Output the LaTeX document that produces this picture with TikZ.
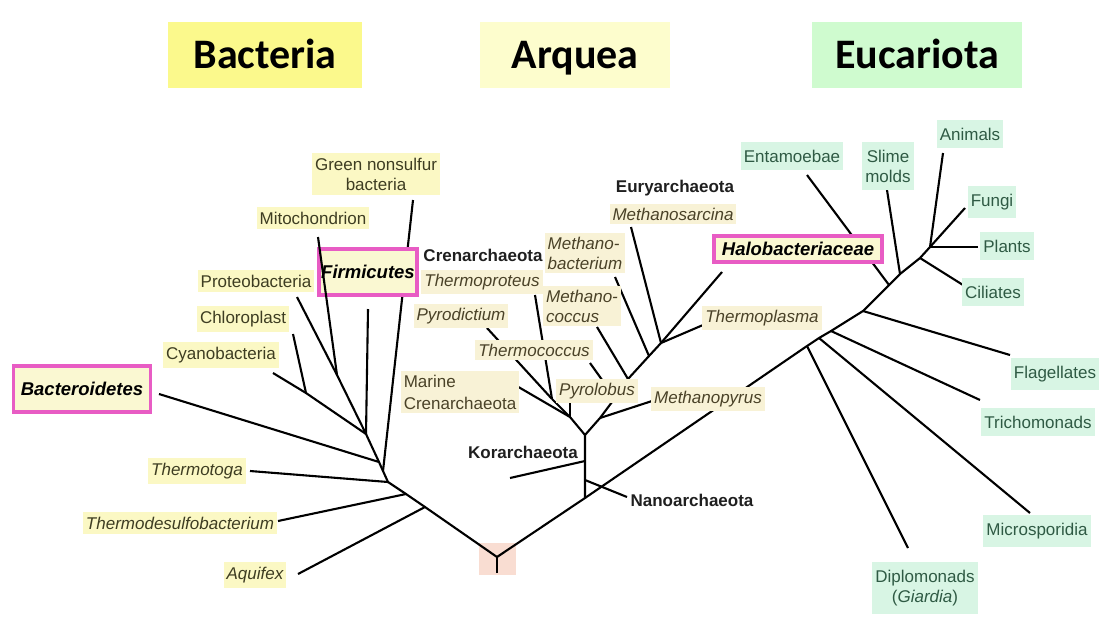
\documentclass[tikz,border=0pt]{standalone}
\usepackage{fontspec}
\setmainfont{Liberation Sans}
\newfontfamily\titlefont{Carlito}
\definecolor{bfill}{HTML}{FBF8C4}
\definecolor{afill}{HTML}{F8F2D6}
\definecolor{efill}{HTML}{D8F5E4}
\definecolor{btxt}{HTML}{3E3D22}
\definecolor{atxt}{HTML}{4A4228}
\definecolor{etxt}{HTML}{2F5A44}
\definecolor{dk}{HTML}{1F1F1F}
\definecolor{pinkc}{HTML}{E85CC4}
\definecolor{pfill}{HTML}{FAF8D2}
\definecolor{tbac}{HTML}{FBF98C}
\definecolor{tarq}{HTML}{FDFDCD}
\definecolor{teuk}{HTML}{CFFBCF}
\definecolor{rootc}{HTML}{F9DDD2}
\begin{document}
\begin{tikzpicture}[x=1pt,y=-1pt,
  br/.style={line width=2.1pt, draw=black, line join=round},
  lab/.style={inner xsep=3pt, inner ysep=5pt, align=center, font=\fontsize{17}{20}\selectfont},
  blab/.style={lab, fill=bfill, text=btxt},
  bilab/.style={blab, font=\fontsize{17}{20}\selectfont\itshape},
  alab/.style={lab, fill=afill, text=atxt, inner ysep=4pt, font=\fontsize{17}{20}\selectfont\itshape},
  elab/.style={lab, fill=efill, text=etxt, inner ysep=8pt},
  pinkbox/.style={draw=pinkc, line width=3.8pt, fill=pfill, text=black, inner sep=2pt, font=\fontsize{18.5}{21}\selectfont\bfseries\itshape},
  boldlab/.style={font=\fontsize{17}{20}\selectfont\bfseries, text=dk, inner sep=1pt},
  titlebox/.style={font=\titlefont\fontsize{42}{46}\selectfont\bfseries, minimum height=66pt, text height=27pt, text depth=0pt, text=black, inner sep=0pt},
]
\useasboundingbox (0,0) rectangle (1100,630);

% titles
\node[titlebox, fill=tbac, minimum width=194pt] (tB) at (265,55) {Bacteria};
\node[titlebox, fill=tarq, minimum width=190pt] (tA) at (575,55) {Arquea};
\node[titlebox, fill=teuk, minimum width=210pt] (tE) at (917,55) {Eucariota};

% root box
\node[fill=rootc, minimum width=37pt, minimum height=32pt, inner sep=0pt] (rootbox) at (497,559) {};

% ---------- coordinates ----------
\coordinate (R) at (497,557);
\coordinate (Rend) at (497,573);
% bacteria
\coordinate (bAq) at (425,507);
\coordinate (bTd) at (406,494);
\coordinate (bTt) at (388,482);
\coordinate (bGn) at (383,471);
\coordinate (bBd) at (379,462);
\coordinate (bFi) at (366,434);
\coordinate (bCh) at (306,393);
\coordinate (bMi) at (337,375);
\coordinate (tBd) at (159,394);
\coordinate (tTt) at (250,471);
\coordinate (tTd) at (278,521);
\coordinate (tAq) at (298,574);
\coordinate (tGn) at (413,200);
\coordinate (tFi) at (368,309);
\coordinate (tCy) at (273,373);
\coordinate (tCh) at (293,334);
\coordinate (tPr) at (297,297);
\coordinate (tMi) at (318,237);
% archaea
\coordinate (aB) at (585,498);
\coordinate (aN) at (585,480);
\coordinate (aK) at (585,461);
\coordinate (aT) at (585,435);
\coordinate (cB) at (570,417);
\coordinate (cA) at (552,399);
\coordinate (eM) at (600,418);
\coordinate (eT) at (615,398);
\coordinate (eC) at (628,379);
\coordinate (eB) at (649,356);
\coordinate (eS) at (661,343);
\coordinate (tKo) at (510,478);
\coordinate (tNa) at (627,497);
\coordinate (tMa) at (515,385);
\coordinate (tPy) at (570,402);
\coordinate (tPd) at (487,328);
\coordinate (tTp) at (535,295);
\coordinate (tMp) at (652,401);
\coordinate (tTc) at (590,363);
\coordinate (tMc) at (597,327);
\coordinate (tMb) at (615,277);
\coordinate (tMs) at (631,227);
\coordinate (tHa) at (722,272);
\coordinate (tTpl) at (703,325);
% eukaryotes
\coordinate (k1) at (807,346);
\coordinate (k2) at (819,338);
\coordinate (k3) at (831,331);
\coordinate (k4) at (863,311);
\coordinate (k5) at (889,285);
\coordinate (k6) at (900,274);
\coordinate (k7) at (920,258);
\coordinate (k8) at (930,247);
\coordinate (tFu) at (965,208);
\coordinate (tEn) at (807,175);
\coordinate (tSl) at (887,190);
\coordinate (tAn) at (943,153);
\coordinate (tPl) at (978,247);
\coordinate (tCi) at (963,285);
\coordinate (tFl) at (1010,355);
\coordinate (tTr) at (980,400);
\coordinate (tMs2) at (1030,513);
\coordinate (tDi) at (908,548);

% ---------- branches ----------
\draw[br] (Rend) -- (R);
% bacteria
\draw[br] (R) -- (bAq) -- (bTd) -- (bTt) -- (bGn) -- (bBd) -- (bFi);
\draw[br] (tBd) -- (bBd);
\draw[br] (tTt) -- (bTt);
\draw[br] (tTd) -- (bTd);
\draw[br] (tAq) -- (bAq);
\draw[br] (tGn) -- (bGn);
\draw[br] (tFi) -- (bFi);
\draw[br] (tCy) -- (bCh) -- (bFi);
\draw[br] (tCh) -- (bCh);
\draw[br] (tPr) -- (bMi) -- (bFi);
% archaea
\draw[br] (R) -- (aB) -- (aN) -- (aK) -- (aT);
\draw[br] (tKo) -- (aK);
\draw[br] (aN) -- (tNa);
\draw[br] (aT) -- (cB) -- (cA);
\draw[br] (tMa) -- (cB);
\draw[br] (tPy) -- (cB);
\draw[br] (tPd) -- (cA);
\draw[br] (tTp) -- (cA);
\draw[br] (aT) -- (eM) -- (eT) -- (eC) -- (eB) -- (eS);
\draw[br] (tMp) -- (eM);
\draw[br] (tTc) -- (eT);
\draw[br] (tMc) -- (eC);
\draw[br] (tMb) -- (eB);
\draw[br] (tMs) -- (eS);
\draw[br] (tHa) -- (eS);
\draw[br] (tTpl) -- (eS);
% eukaryotes
\draw[br] (aB) -- (k1) -- (k2) -- (k3) -- (k4) -- (k5) -- (k6) -- (k7) -- (k8) -- (tFu);
\draw[br] (tEn) -- (k5);
\draw[br] (tSl) -- (k6);
\draw[br] (tAn) -- (k8);
\draw[br] (tPl) -- (k8);
\draw[br] (tCi) -- (k7);
\draw[br] (tFl) -- (k4);
\draw[br] (tTr) -- (k3);
\draw[br] (tMs2) -- (k2);
\draw[br] (tDi) -- (k1);

% ---------- labels ----------
% bacteria
\node[blab] (Gn) at (376,174) {Green nonsulfur\\bacteria};
\node[blab] (Mi) at (313,218) {Mitochondrion};
\node[blab] (Pr) at (256,281) {Proteobacteria};
\node[blab] (Ch) at (243,319) {Chloroplast};
\node[blab] (Cy) at (221,355) {Cyanobacteria};
\node[bilab] (Tt) at (197,471) {Thermotoga};
\node[bilab] (Td) at (180,523) {Thermodesulfobacterium};
\node[bilab] (Aq) at (255,575) {Aquifex};
\node[pinkbox, minimum width=137pt, minimum height=46pt] (Bd) at (82,389) {Bacteroidetes};
\node[pinkbox, minimum width=97pt, minimum height=46pt] (Fi) at (368,272) {Firmicutes};
% archaea
\node[boldlab] (Cr) at (483,255) {Crenarchaeota};
\node[alab] (Tp) at (482,282) {Thermoproteus};
\node[alab] (Pd) at (461,316) {Pyrodictium};
\node[alab] (Tc) at (534,350) {Thermococcus};
\node[alab, align=left, font=\fontsize{17}{22}\selectfont] (Ma) at (460,392) {Marine\\Crenarchaeota};
\node[alab] (Py) at (597,391) {Pyrolobus};
\node[alab] (Mp) at (708,399) {Methanopyrus};
\node[alab, align=left] (Mc) at (582,306) {Methano-\\coccus};
\node[alab, align=left] (Mb) at (585,253) {Methano-\\bacterium};
\node[boldlab] (Eu) at (675,188) {Euryarchaeota};
\node[alab] (Ms) at (673,214) {Methanosarcina};
\node[alab] (Tpl) at (762,318) {Thermoplasma};
\node[pinkbox, minimum width=168pt, minimum height=26pt, inner sep=1pt] (Ha) at (798,249) {Halobacteriaceae};
\node[boldlab] (Ko) at (523,452) {Korarchaeota};
\node[boldlab] (Na) at (692,500) {Nanoarchaeota};
% eukaryotes
\node[elab] (En) at (792,156) {Entamoebae};
\node[elab] (Sl) at (888,166) {Slime\\molds};
\node[elab] (An) at (970,134) {Animals};
\node[elab] (Fu) at (992,202) {Fungi};
\node[elab] (Pl) at (1007,246) {Plants};
\node[elab] (Ci) at (993,292) {Ciliates};
\node[elab] (Fl) at (1055,374) {Flagellates};
\node[elab] (Tr) at (1038,422) {Trichomonads};
\node[elab] (Mic) at (1037,531) {Microsporidia};
\node[elab] (Di) at (925,588) {Diplomonads\\(\textit{Giardia})};

% mitochondrion branch drawn over the Firmicutes box
\draw[br] (tMi) -- (bMi);
\end{tikzpicture}
\end{document}
